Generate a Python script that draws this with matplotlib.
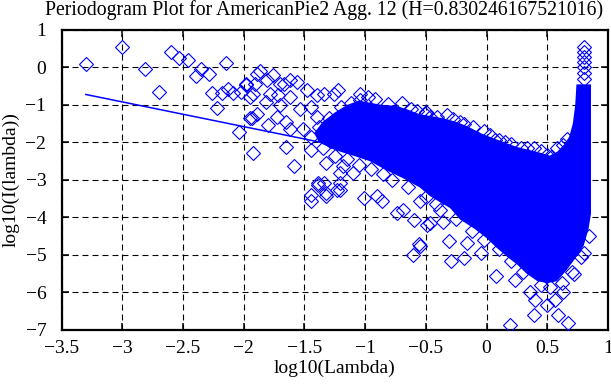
import matplotlib
matplotlib.use("Agg")
from matplotlib import pyplot as plt

plt.rcParams["font.family"] = ["Liberation Serif", "DejaVu Serif"]
plt.rcParams["lines.scale_dashes"] = False

title = "Periodogram Plot for AmericanPie2 Agg. 12 (H=0.830246167521016)"

# isolated periodogram points (log10 lambda, log10 I(lambda))
pts_x = [
    -3.30, -3.00, -2.81, -2.70, -2.60, -2.53, -2.46, -2.35, -2.29, -2.39,
    -2.15, -2.26, -2.18, -2.22, -2.13, -2.09, -2.02, -1.98, -1.95, -1.89,
    -2.04, -1.93, -1.92, -1.87, -1.76, -1.81, -1.98, -1.62, -1.70, -1.92,
    -1.72, -1.48, -1.34, -1.22, -1.95, -1.80, -1.62, -1.65, -1.59, -1.45,
    -1.39, -1.45, -1.32, -1.21, -1.21, -1.67, -1.91, -1.56, -1.62, -1.78,
    -1.89, -1.73, -1.65, -1.40, -1.26, -1.40, -1.45, -1.54, -1.82, -1.70,
    -1.51, -1.04, -1.04, -0.81, -0.70, -0.57, -0.33, -0.22, -0.11, 0.10,
    0.39, 0.58, -0.51, -0.47, -0.19, -0.41, 0.07, 0.28, 0.50, 0.63,
    -1.45, -1.32, -1.23, -1.39, -1.01, -0.90, -0.86, -0.74, -0.56, -0.61,
    -0.49, -0.60, -0.69, -1.32, -1.10, -1.18, -0.47, -0.55, -0.38, -1.34,
    -1.21, -0.55, -0.36, -0.31, -0.29, -0.19, -0.16, -0.05, 0.08, 0.19,
    0.23, 0.39, 0.40, 0.50, 0.59, 0.67, 0.56, 0.36, 0.63, 0.72,
    0.80, 0.80, 0.80, 0.80, 0.80, 0.80, 0.80, 0.80,
]
pts_y = [
    0.10, 0.54, -0.04, -0.65, 0.40, 0.25, 0.21, -0.05, -0.17, -0.23,
    0.11, -0.68, -0.67, -1.07, -0.57, -0.68, -0.65, -0.45, -0.79, -0.17,
    -1.72, -1.34, -2.29, -0.10, -0.21, -0.34, -0.48, -0.34, -0.43, -0.70,
    -0.74, -0.61, -0.70, -0.61, -1.36, -1.54, -1.63, -2.11, -2.63, -2.20,
    -3.08, -3.40, -3.35, -3.26, -2.82, -0.43, -0.43, -0.39, -0.79, -0.70,
    -1.23, -1.32, -1.45, -1.32, -0.70, -0.74, -1.05, -1.11, -0.92, -1.01,
    -1.63, -0.70, -0.88, -0.97, -0.95, -1.15, -1.27, -1.45, -1.58, -1.94,
    -2.16, -2.16, -1.24, -1.32, -1.50, -1.32, -1.94, -2.16, -2.33, -2.07,
    -3.57, -3.42, -3.26, -3.13, -3.48, -3.44, -3.55, -3.88, -4.72, -4.99,
    -4.19, -4.06, -3.79, -2.56, -2.82, -2.64, -4.15, -3.57, -3.79, -3.08,
    -3.08, -4.77, -4.11, -4.64, -5.17, -5.08, -4.68, -4.95, -5.57, -6.86,
    -5.66, -6.60, -6.20, -6.33, -6.60, -6.82, -6.20, -6.00, -6.00, -5.52,
    -4.95, 0.55, 0.42, 0.28, 0.14, 0.00, -0.15, -0.30,
]

# points sitting on the edge of the dense band
edge_x = [
    -1.30, -1.20, -1.12, -0.98, -0.92, -0.62, -0.50, -0.28, -0.02, 0.03,
    0.15, 0.20, 0.33, 0.45, 0.53, 0.66,
    -1.35, -1.25, -1.15, -1.05, -0.95, -0.85, -0.78, -0.65, -0.50, -0.42,
    -0.25, -0.12, -0.02, 0.10, 0.20, 0.30, 0.45, 0.52, 0.62, 0.70,
    0.78, 0.84, -1.45, -1.38, -1.28,
]
edge_y = [
    -1.35, -1.05, -0.95, -0.80, -0.85, -1.10, -1.20, -1.38, -1.70, -1.80,
    -1.98, -2.05, -2.15, -2.22, -2.38, -1.90,
    -2.15, -2.35, -2.45, -2.60, -2.70, -2.85, -3.00, -3.20, -3.45, -3.65,
    -4.05, -4.35, -4.60, -4.85, -5.15, -5.45, -5.80, -5.85, -5.75, -5.45,
    -5.05, -4.50, -1.85, -1.60, -1.95,
]

# outline of the solid band where the diamonds merge
band_x = [
    -1.42, -1.35, -1.25, -1.15, -1.05, -0.95, -0.85, -0.75, -0.65, -0.55,
    -0.45, -0.35, -0.25, -0.15, -0.05, 0.05, 0.15, 0.25, 0.35, 0.45,
    0.52, 0.58, 0.64, 0.68, 0.71, 0.73, 0.74, 0.86, 0.86,
    0.84, 0.80, 0.74, 0.66, 0.58, 0.50, 0.42, 0.33, 0.25, 0.17,
    0.08, 0.00, -0.10, -0.22, -0.30, -0.38, -0.47, -0.55, -0.69, -0.82,
    -0.96, -1.10, -1.25, -1.38,
]
band_y = [
    -1.75, -1.45, -1.20, -1.00, -0.88, -0.95, -1.00, -1.02, -1.12, -1.25,
    -1.30, -1.36, -1.45, -1.58, -1.75, -1.88, -2.00, -2.12, -2.20, -2.28,
    -2.35, -2.25, -2.05, -1.85, -1.50, -1.00, -0.45, -0.45, -3.90,
    -4.30, -4.75, -5.05, -5.40, -5.70, -5.75, -5.70, -5.50, -5.25, -5.05,
    -4.80, -4.55, -4.30, -4.05, -3.75, -3.60, -3.42, -3.20, -2.95, -2.75,
    -2.50, -2.35, -2.20, -2.00,
]

# least squares fit line
fit_x = [-3.30, -1.10]
fit_y = [-0.72, -2.17]

xticks = [-3.5, -3, -2.5, -2, -1.5, -1, -0.5, 0, 0.5, 1]
xlabels = ["\u22123.5", "\u22123", "\u22122.5", "\u22122", "\u22121.5", "\u22121",
           "\u22120.5", "0", "0.5", "1"]
yticks = [-7, -6, -5, -4, -3, -2, -1, 0, 1]
ylabels = ["\u22127", "\u22126", "\u22125", "\u22124", "\u22123", "\u22122", "\u22121", "0", "1"]

blue = "#0000ff"

fig = plt.figure(figsize=(6.11, 3.85), dpi=100)
ax = fig.add_axes([0.1008, 0.1429, 0.8943, 0.7792])

ax.fill(band_x, band_y, color=blue, lw=0, zorder=2)
ax.plot(pts_x, pts_y, ls="none", marker="D", ms=7, mfc="none", mec=blue, mew=0.8, zorder=3)
ax.plot(edge_x, edge_y, ls="none", marker="D", ms=7, mfc="none", mec=blue, mew=0.8, zorder=3)
ax.plot(fit_x, fit_y, color=blue, lw=1.1, zorder=4)

ax.set_xlim(-3.5, 1)
ax.set_ylim(-7, 1)
ax.set_xticks(xticks)
ax.set_xticklabels(xlabels)
ax.set_yticks(yticks)
ax.set_yticklabels(ylabels)
ax.grid(True, color="black", lw=0.8, ls=(0, (4.3, 2.9)), zorder=1)
ax.set_axisbelow(True)
ax.tick_params(direction="in", length=5, width=1.1, top=True, right=True,
               labelsize=14, pad=7)
ax.tick_params(axis="y", pad=11)
for s in ax.spines.values():
    s.set_linewidth(1.6)

ax.set_xlabel("log10(Lambda)", fontsize=14, labelpad=2)
ax.set_ylabel("log10(I(lambda))", fontsize=14, labelpad=4)
fig.text(45 / 611, 1 - 10 / 385, title, fontsize=14.2, ha="left", va="center")

fig.savefig("out.png", dpi=100)
